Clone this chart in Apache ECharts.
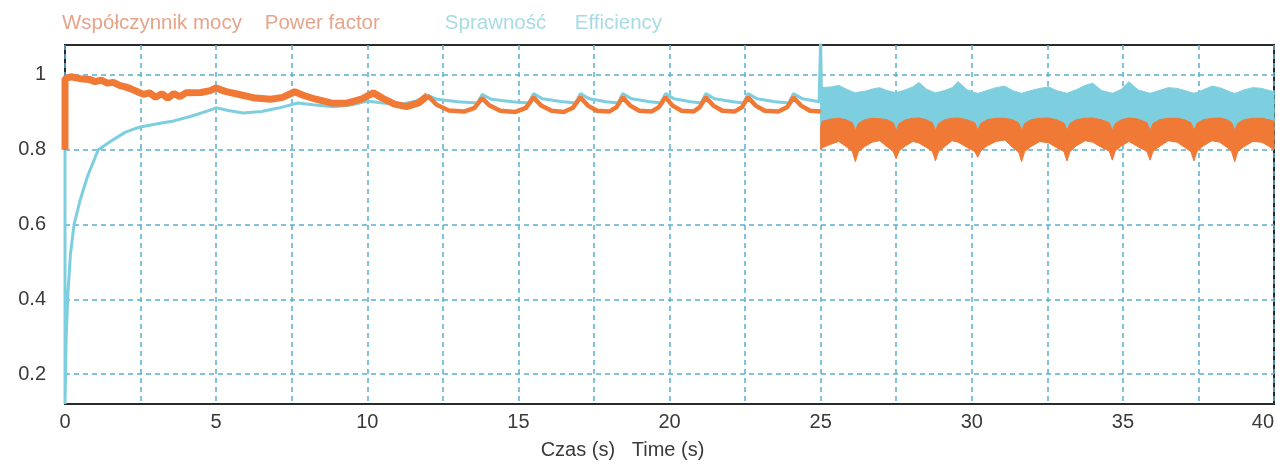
<!DOCTYPE html>
<html><head><meta charset="utf-8">
<script src="https://cdn.jsdelivr.net/npm/echarts@6/dist/echarts.min.js"></script>
<style>html,body{margin:0;padding:0;background:#fff}#c{width:1283px;height:468px}</style>
</head><body><div id="c"></div>
<script>
// ---- names / ticks ----
const pfName = 'Współczynnik mocy    Power factor';
const effName = 'Sprawność     Efficiency';
const xAxisTitle = 'Czas (s)   Time (s)';
const xTickLabels = [0, 5, 10, 15, 20, 25, 30, 35, 40];
const yTickLabels = [0.2, 0.4, 0.6, 0.8, 1];

// ---- efficiency (0-25 s) ----
const effT = [0, 0, 0.04, 0.1, 0.18, 0.3, 0.5, 0.75, 1.1, 1.6, 2.0, 2.45, 3.1, 3.6, 4.2, 4.7, 5.0, 5.4, 5.9, 6.5, 7.1, 7.7, 8.2, 8.9, 9.5, 10.0, 10.5, 11.1, 11.6,
  12.0, 12.3, 13.0, 13.65, 13.8, 14.1, 14.8, 15.35, 15.5, 15.8, 16.4, 16.9, 17.05, 17.35, 17.9, 18.3, 18.45, 18.75, 19.3, 19.72, 19.87, 20.15, 20.7, 21.05, 21.2, 21.5, 22.1, 22.45, 22.6, 22.9, 23.5, 23.95, 24.1, 24.4, 24.95, 25.0, 25.03];
const effV = [0.80, 0.12, 0.30, 0.42, 0.52, 0.60, 0.665, 0.73, 0.80, 0.827, 0.847, 0.860, 0.870, 0.877, 0.890, 0.903, 0.912, 0.905, 0.898, 0.902, 0.912, 0.925, 0.920, 0.915, 0.920, 0.930, 0.925, 0.921, 0.930,
  0.945, 0.935, 0.928, 0.925, 0.948, 0.935, 0.928, 0.925, 0.950, 0.936, 0.929, 0.925, 0.950, 0.936, 0.928, 0.925, 0.950, 0.936, 0.929, 0.925, 0.950, 0.936, 0.928, 0.925, 0.950, 0.936, 0.928, 0.925, 0.950, 0.936, 0.928, 0.925, 0.950, 0.936, 0.928, 1.09, 0.93];

// ---- power factor (0-12 s, thick) ----
const pfEarlyT = [0, 0, 0.2, 0.5, 0.8, 1.0, 1.2, 1.4, 1.6, 1.8, 2.0, 2.2, 2.4, 2.6, 2.8, 3.0, 3.2, 3.4, 3.6, 3.8, 4.0, 4.5, 4.8, 5.0, 5.3, 5.8, 6.3, 6.8, 7.2, 7.6, 7.9, 8.3, 8.8, 9.3, 9.8, 10.2, 10.5, 10.9, 11.3, 11.7, 12.0];
const pfEarlyV = [0.80, 0.99, 0.995, 0.99, 0.988, 0.982, 0.986, 0.978, 0.980, 0.972, 0.968, 0.962, 0.955, 0.948, 0.952, 0.940, 0.950, 0.938, 0.950, 0.942, 0.952, 0.953, 0.958, 0.965, 0.956, 0.947, 0.938, 0.935, 0.940, 0.955, 0.945, 0.935, 0.925, 0.924, 0.935, 0.952, 0.938, 0.922, 0.915, 0.925, 0.945];

// ---- power factor (12-25 s) ----
const pfMidT = [12.0, 12.3, 12.7, 13.2, 13.55, 13.8, 14.05, 14.4, 14.9, 15.25, 15.5, 15.75, 16.1, 16.5, 16.8, 17.05, 17.3, 17.6, 18.0, 18.25, 18.45, 18.7, 19.0, 19.4, 19.65, 19.87, 20.1, 20.4, 20.8, 21.0, 21.2, 21.45, 21.75, 22.15, 22.4, 22.6, 22.85, 23.15, 23.6, 23.9, 24.1, 24.35, 24.65, 25.0];
const pfMidV = [0.945, 0.920, 0.905, 0.902, 0.912, 0.938, 0.918, 0.904, 0.901, 0.912, 0.940, 0.918, 0.904, 0.901, 0.912, 0.940, 0.918, 0.904, 0.902, 0.914, 0.940, 0.918, 0.904, 0.902, 0.914, 0.940, 0.918, 0.904, 0.902, 0.914, 0.940, 0.918, 0.904, 0.902, 0.914, 0.940, 0.918, 0.904, 0.902, 0.914, 0.940, 0.918, 0.904, 0.902];

// ---- noisy section 25-40 s: band envelopes (lower / upper edge) ----
const bandT = [
  25.00, 25.05, 25.35, 25.6, 25.85, 26.05, 26.15, 26.25, 26.45, 26.7,
  26.95, 27.2, 27.4, 27.5, 27.6, 27.8, 28.05, 28.25, 28.5, 28.7,
  28.8, 28.9, 29.1, 29.35, 29.55, 29.85, 30.1, 30.2, 30.3, 30.5,
  30.8, 31.1, 31.35, 31.55, 31.65, 31.75, 31.95, 32.25, 32.55, 32.8,
  33.05, 33.15, 33.25, 33.45, 33.75, 34.0, 34.3, 34.55, 34.65, 34.75,
  34.95, 35.2, 35.5, 35.8, 35.9, 36.0, 36.2, 36.5, 36.8, 37.05,
  37.25, 37.35, 37.45, 37.65, 37.95, 38.2, 38.45, 38.6, 38.7, 38.8,
  39.0, 39.3, 39.6, 39.85, 40.0];
const pfLow = [
  0.800, 0.805, 0.815, 0.822, 0.808, 0.795, 0.768, 0.795, 0.808, 0.820,
  0.824, 0.808, 0.795, 0.776, 0.797, 0.810, 0.822, 0.818, 0.806, 0.795,
  0.770, 0.795, 0.808, 0.824, 0.820, 0.806, 0.795, 0.780, 0.797, 0.810,
  0.822, 0.826, 0.806, 0.794, 0.768, 0.795, 0.808, 0.822, 0.818, 0.806,
  0.795, 0.770, 0.795, 0.810, 0.824, 0.820, 0.806, 0.796, 0.772, 0.797,
  0.810, 0.822, 0.808, 0.795, 0.772, 0.796, 0.808, 0.824, 0.820, 0.806,
  0.795, 0.770, 0.795, 0.810, 0.824, 0.820, 0.806, 0.794, 0.768, 0.795,
  0.808, 0.822, 0.820, 0.808, 0.800];
const pfHigh = [
  0.862, 0.876, 0.882, 0.884, 0.880, 0.872, 0.852, 0.870, 0.880, 0.884,
  0.883, 0.880, 0.872, 0.852, 0.870, 0.880, 0.884, 0.885, 0.880, 0.872,
  0.852, 0.870, 0.880, 0.884, 0.885, 0.880, 0.872, 0.852, 0.870, 0.880,
  0.884, 0.884, 0.880, 0.872, 0.852, 0.870, 0.880, 0.884, 0.885, 0.880,
  0.872, 0.852, 0.870, 0.880, 0.884, 0.885, 0.880, 0.872, 0.852, 0.870,
  0.880, 0.885, 0.882, 0.872, 0.852, 0.870, 0.880, 0.884, 0.884, 0.880,
  0.872, 0.852, 0.870, 0.880, 0.884, 0.885, 0.880, 0.872, 0.852, 0.870,
  0.880, 0.884, 0.884, 0.880, 0.876];
const effLow = [
  0.860, 0.868, 0.872, 0.874, 0.870, 0.858, 0.842, 0.856, 0.870, 0.874,
  0.874, 0.870, 0.860, 0.844, 0.856, 0.870, 0.874, 0.876, 0.872, 0.860,
  0.842, 0.856, 0.870, 0.874, 0.876, 0.872, 0.860, 0.844, 0.856, 0.870,
  0.874, 0.876, 0.870, 0.860, 0.842, 0.856, 0.870, 0.874, 0.876, 0.870,
  0.860, 0.842, 0.856, 0.870, 0.874, 0.876, 0.870, 0.860, 0.842, 0.856,
  0.870, 0.876, 0.872, 0.860, 0.842, 0.856, 0.870, 0.874, 0.874, 0.870,
  0.860, 0.842, 0.856, 0.870, 0.874, 0.876, 0.870, 0.860, 0.842, 0.856,
  0.870, 0.874, 0.874, 0.870, 0.866];
const effHigh = [
  0.958, 0.966, 0.968, 0.972, 0.962, 0.955, 0.952, 0.954, 0.956, 0.962,
  0.966, 0.958, 0.954, 0.953, 0.955, 0.960, 0.968, 0.980, 0.962, 0.955,
  0.952, 0.954, 0.958, 0.966, 0.982, 0.960, 0.953, 0.951, 0.953, 0.958,
  0.966, 0.970, 0.958, 0.953, 0.951, 0.953, 0.958, 0.964, 0.968, 0.958,
  0.953, 0.951, 0.954, 0.960, 0.972, 0.978, 0.958, 0.953, 0.951, 0.954,
  0.962, 0.982, 0.960, 0.953, 0.951, 0.953, 0.958, 0.966, 0.964, 0.958,
  0.953, 0.951, 0.953, 0.960, 0.970, 0.966, 0.958, 0.953, 0.951, 0.953,
  0.960, 0.966, 0.964, 0.958, 0.955];

// ---- styles ----
const ORANGE = '#f07a35';
const CYAN = '#7dcfdf';
const zip = (a, b) => a.map((v, i) => [v, b[i]]);

function bandRenderer(lo, hi, color) {
  return function (params, api) {
    if (params.dataIndex !== 0) return null;
    const top = bandT.map((t, i) => api.coord([t, hi[i]]));
    const bot = bandT.map((t, i) => api.coord([t, lo[i]])).reverse();
    return { type: 'polygon', shape: { points: top.concat(bot) },
      style: { fill: color, stroke: color, lineWidth: 1 } };
  };
}

const chart = echarts.init(document.getElementById('c'), null, { renderer: 'canvas' });
const font = "'Liberation Sans', Arial, sans-serif";
const gridLine = { show: true, lineStyle: { color: '#5aaed0', width: 1.5, type: [5, 4] } };

chart.setOption({
  animation: false,
  backgroundColor: '#ffffff',
  textStyle: { fontFamily: font },
  legend: {
    left: 52, top: 8, itemWidth: 0, itemHeight: 0, itemGap: 60,
    selectedMode: false,
    textStyle: { fontSize: 20.5, fontFamily: font },
    data: [
      { name: pfName, icon: 'rect', textStyle: { color: '#e6a48a' } },
      { name: effName, icon: 'rect', textStyle: { color: '#a6dbe6' } }
    ]
  },
  grid: { left: 65, right: 9, top: 45, bottom: 64, show: true, borderColor: '#2a2a2a', borderWidth: 2, backgroundColor: 'transparent' },
  xAxis: {
    type: 'value', min: 0, max: 40, interval: 2.5,
    name: xAxisTitle, nameLocation: 'middle', nameGap: 36,
    nameTextStyle: { fontSize: 20, color: '#3a3a3a', fontFamily: font, padding: [0, 94, 0, 0] },
    axisLine: { show: false }, axisTick: { show: false },
    axisLabel: { fontSize: 20, color: '#3a3a3a', margin: 8, alignMaxLabel: 'right',
      formatter: v => (xTickLabels.indexOf(v) >= 0 ? String(v) : '') },
    splitLine: gridLine
  },
  yAxis: {
    type: 'value', min: 0.12, max: 1.08,
    axisLine: { show: false },
    axisTick: { show: false, customValues: yTickLabels },
    axisLabel: { fontSize: 20, color: '#3a3a3a', margin: 19, customValues: yTickLabels },
    splitLine: gridLine
  },
  series: [
    { name: effName, type: 'line', data: zip(effT, effV), showSymbol: false, z: 3,
      lineStyle: { color: CYAN, width: 3 }, itemStyle: { color: CYAN } },
    { name: effName, type: 'custom', data: bandT.map((t, i) => [t, effLow[i], effHigh[i]]),
      encode: { x: 0, y: [1, 2] }, renderItem: bandRenderer(effLow, effHigh, CYAN), z: 3, itemStyle: { color: CYAN } },
    { name: pfName, type: 'line', data: zip(pfEarlyT, pfEarlyV), showSymbol: false, z: 4,
      lineStyle: { color: ORANGE, width: 7 }, itemStyle: { color: ORANGE } },
    { name: pfName, type: 'line', data: zip(pfMidT, pfMidV), showSymbol: false, z: 4,
      lineStyle: { color: ORANGE, width: 4.5 }, itemStyle: { color: ORANGE } },
    { name: pfName, type: 'custom', data: bandT.map((t, i) => [t, pfLow[i], pfHigh[i]]),
      encode: { x: 0, y: [1, 2] }, renderItem: bandRenderer(pfLow, pfHigh, ORANGE), z: 4, itemStyle: { color: ORANGE } }
  ]
});
</script></body></html>
